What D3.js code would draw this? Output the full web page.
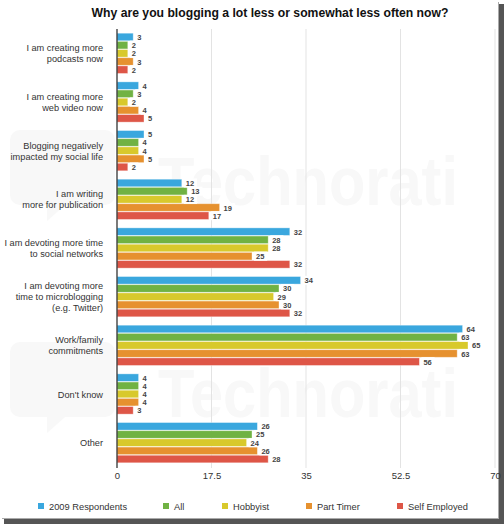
<!DOCTYPE html>
<html>
<head>
<meta charset="utf-8">
<script src="https://cdn.jsdelivr.net/npm/d3@7"></script>
<style>
  body { margin: 0; background: #fff; }
  svg { display: block; font-family: "Liberation Sans", Arial, sans-serif; }
</style>
</head>
<body>
<svg id="chart"></svg>
<script>
// reasons, one label per line
var categories = [
  ["I am creating more", "podcasts now"],
  ["I am creating more", "web video now"],
  ["Blogging negatively", "impacted my social life"],
  ["I am writing", "more for publication"],
  ["I am devoting more time", "to social networks"],
  ["I am devoting more", "time to microblogging", "(e.g. Twitter)"],
  ["Work/family", "commitments"],
  ["Don't know"],
  ["Other"]
];
var seriesNames = ["2009 Respondents", "All", "Hobbyist", "Part Timer", "Self Employed"];
var respondents2009 = [3, 4, 5, 12, 32, 34, 64, 4, 26];
var allBloggers     = [2, 3, 4, 13, 28, 30, 63, 4, 25];
var hobbyist        = [2, 2, 4, 12, 28, 29, 65, 4, 24];
var partTimer       = [3, 4, 5, 19, 25, 30, 63, 4, 26];
var selfEmployed    = [2, 5, 2, 17, 32, 32, 56, 3, 28];
var tickValues = [0, 17.5, 35, 52.5, 70];
var colors = ["#3aa7de", "#70b243", "#d8c92c", "#e6912f", "#de5647"];

var series = [respondents2009, allBloggers, hobbyist, partTimer, selfEmployed];

var width = 504, height = 524;
var svg = d3.select("#chart").attr("width", width).attr("height", height);

// frame with shadow on right and bottom
svg.append("rect").attr("x", 0).attr("y", 0).attr("width", width).attr("height", height).attr("fill", "#fff");
svg.append("rect").attr("x", 499).attr("y", 4).attr("width", 5).attr("height", 520).attr("fill", "#555");
svg.append("rect").attr("x", 4).attr("y", 519).attr("width", 500).attr("height", 5).attr("fill", "#555");
svg.append("rect").attr("x", 498).attr("y", 2).attr("width", 1).attr("height", 517).attr("fill", "#aaa");
svg.append("rect").attr("x", 2).attr("y", 518).attr("width", 497).attr("height", 1).attr("fill", "#aaa");

// faint watermark
var wm = svg.append("g").attr("fill", "#f8f8f8");
[205, 417].forEach(function(b) {
  wm.append("path")
    .attr("d", "M20," + (b - 75) + " h85 a10,10 0 0 1 10,10 v55 a10,10 0 0 1 -10,10 h-40 l-18,16 v-16 h-27 a10,10 0 0 1 -10,-10 v-55 a10,10 0 0 1 10,-10 z");
  wm.append("text").attr("x", 158).attr("y", b)
    .attr("font-size", 68).attr("font-weight", "bold")
    .attr("textLength", 300).attr("lengthAdjust", "spacingAndGlyphs")
    .text("Technorati");
});

var x = d3.scaleLinear().domain([0, 70]).range([117, 495]);
var y = d3.scaleBand().domain(d3.range(categories.length)).range([29, 467])
  .paddingInner(0.16).paddingOuter(0.08);
var yInner = d3.scaleBand().domain(d3.range(seriesNames.length)).range([0, y.bandwidth()]);

// title
svg.append("text").attr("x", 270).attr("y", 17).attr("text-anchor", "middle")
  .attr("font-size", 12.2).attr("font-weight", "bold").attr("fill", "#111")
  .text("Why are you blogging a lot less or somewhat less often now?");

// grid
svg.append("g").selectAll("line").data(tickValues.slice(1)).join("line")
  .attr("x1", d => x(d)).attr("x2", d => x(d))
  .attr("y1", 29).attr("y2", 468)
  .attr("stroke", "#e3e3e3").attr("stroke-width", 1);

// x axis labels
var xAxis = d3.axisBottom(x).tickValues(tickValues).tickSize(0).tickPadding(0)
  .tickFormat(d => d);
svg.append("g").attr("transform", "translate(0,472)").call(xAxis)
  .call(g => g.select(".domain").remove())
  .selectAll("text").attr("font-size", 9.5).attr("fill", "#333")
  .attr("font-family", "Liberation Sans, Arial, sans-serif");

// bars
var groups = svg.append("g").selectAll("g").data(categories).join("g")
  .attr("transform", (d, i) => "translate(0," + y(i) + ")");

groups.each(function(cat, ci) {
  var g = d3.select(this);
  var vals = series.map(s => s[ci]);
  g.selectAll("rect.bar").data(vals).join("rect")
    .attr("class", "bar")
    .attr("x", x(0))
    .attr("y", (d, si) => yInner(si) + 0.3)
    .attr("width", d => x(d) - x(0))
    .attr("height", yInner.bandwidth() - 0.6)
    .attr("fill", (d, si) => colors[si])
    .attr("stroke", "#fff").attr("stroke-opacity", 0.45).attr("stroke-width", 0.8);

  var lbl = g.selectAll("g.lbl").data(vals).join("g").attr("class", "lbl")
    .attr("transform", (d, si) => "translate(" + (x(d) + 2) + "," + (yInner(si) + yInner.bandwidth() / 2) + ")");
  lbl.append("rect").attr("x", 0).attr("y", -4.5)
    .attr("width", d => String(d).length * 4.6 + 4).attr("height", 9).attr("fill", "#fff");
  lbl.append("text").attr("x", 2).attr("y", 3)
    .attr("font-size", 7.5).attr("font-weight", "bold").attr("fill", "#444")
    .text(d => d);
});

// y labels
var ylab = svg.append("g").selectAll("text").data(categories).join("text")
  .attr("text-anchor", "end").attr("font-size", 9.2).attr("fill", "#333");
ylab.each(function(lines, i) {
  var t = d3.select(this);
  var cy = y(i) + y.bandwidth() / 2;
  var lh = 11;
  var start = cy - (lines.length - 1) * lh / 2 + 3.5;
  lines.forEach(function(l, k) {
    t.append("tspan").attr("x", 103).attr("y", start + k * lh).text(l);
  });
});

// axis line
svg.append("line").attr("x1", x(0)).attr("x2", x(0)).attr("y1", 29).attr("y2", 468)
  .attr("stroke", "#333").attr("stroke-width", 1.3);

// legend
var legendX = [38, 163, 222, 306, 397];
var legend = svg.append("g").selectAll("g").data(seriesNames).join("g")
  .attr("transform", (d, i) => "translate(" + legendX[i] + ",506)");
legend.append("rect").attr("x", 0).attr("y", -3).attr("width", 6).attr("height", 6)
  .attr("fill", (d, i) => colors[i]);
legend.append("text").attr("x", 11).attr("y", 3.5).attr("font-size", 9.3).attr("fill", "#333")
  .text(d => d);
</script>
</body>
</html>
